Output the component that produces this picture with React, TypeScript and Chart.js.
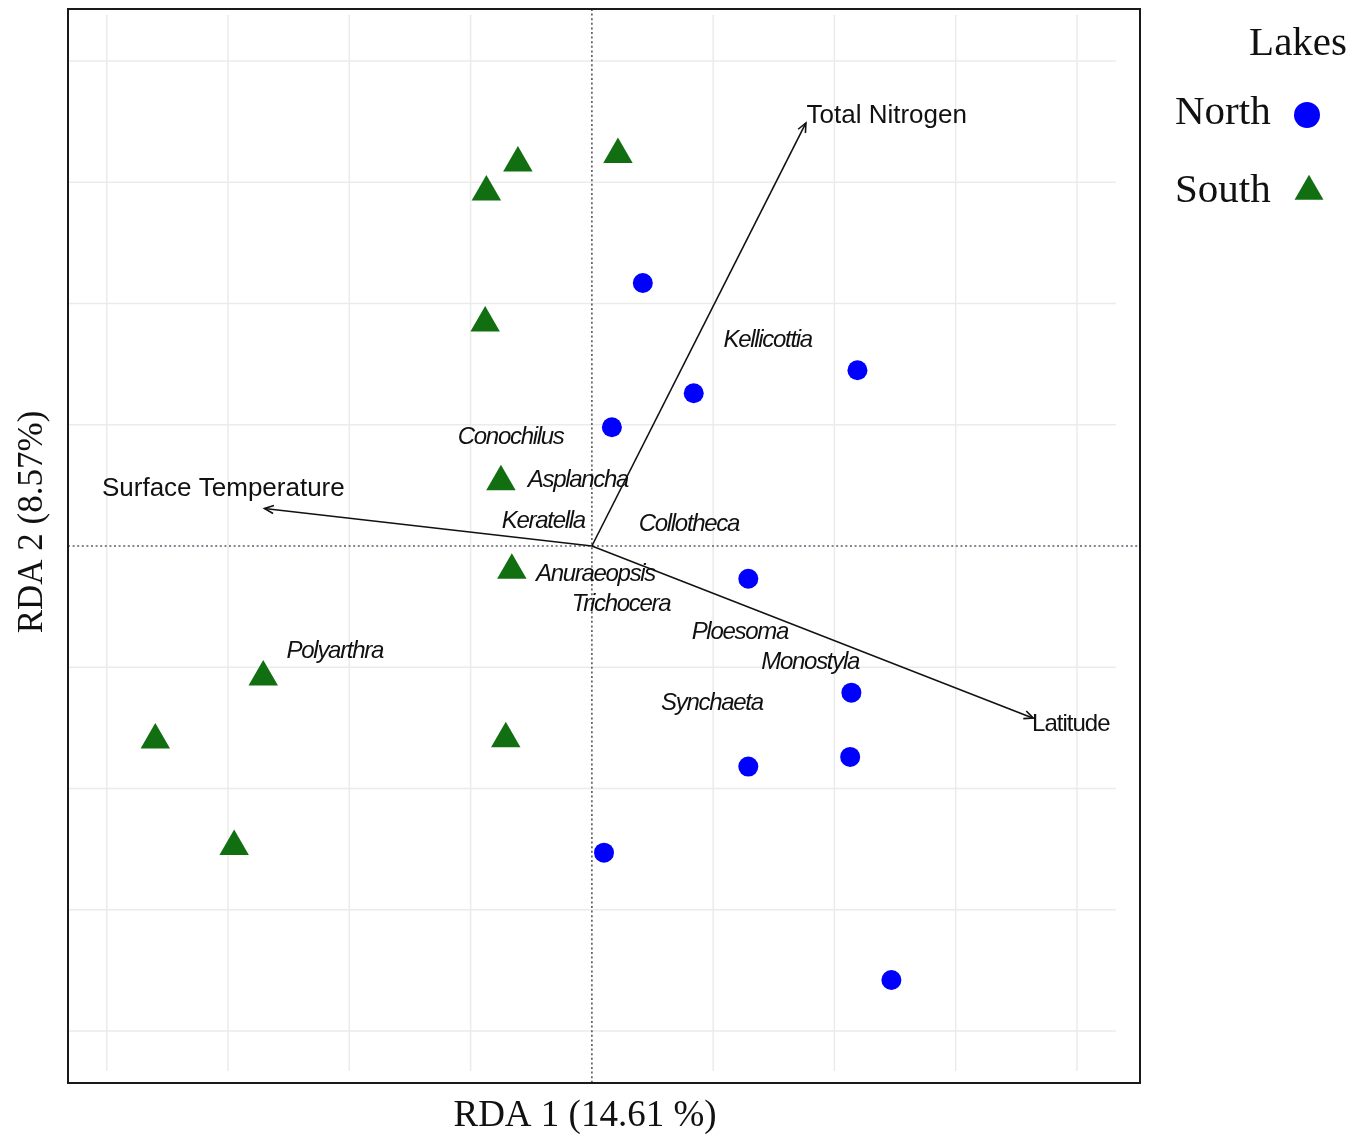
import React, { useEffect, useRef } from "react";
import { Chart, registerables } from "chart.js";

Chart.register(...registerables);

// ---- Data (RDA scores) ----
const northX = [0.42, 2.19, 0.84, 0.165, 1.29, 2.14, 2.13, 1.29, 0.1, 2.47];
const northY = [2.17, 1.45, 1.26, 0.98, -0.27, -1.21, -1.74, -1.82, -2.53, -3.58];

const southX = [0.215, -0.61, -0.87, -0.88, -0.75, -0.66, -2.71, -3.6, -0.71, -2.95];
const southY = [3.23, 3.16, 2.92, 1.84, 0.53, -0.2, -1.08, -1.6, -1.59, -2.48];

const speciesNames = [
  "Kellicottia",
  "Conochilus",
  "Asplancha",
  "Keratella",
  "Collotheca",
  "Anuraeopsis",
  "Trichocera",
  "Ploesoma",
  "Monostyla",
  "Synchaeta",
  "Polyarthra",
];
const speciesX = [1.45, -0.67, -0.115, -0.4, 0.8, 0.03, 0.24, 1.22, 1.8, 0.99, -2.12];
const speciesY = [1.7, 0.9, 0.54, 0.2, 0.18, -0.23, -0.48, -0.71, -0.96, -1.3, -0.87];

const vectorNames = ["Total Nitrogen", "Surface Temperature", "Latitude"];
const vectorX = [1.765, -2.7, 3.64];
const vectorY = [3.49, 0.31, -1.42];
const vectorLabelX = [1.77, -4.04, 3.63];
const vectorLabelY = [3.55, 0.47, -1.47];

const gridTicks = [-4, -3, -2, -1, 1, 2, 3, 4];

const xTitle = "RDA 1 (14.61 %)";
const yTitle = "RDA 2 (8.57%)";
const legendTitle = "Lakes";
const groupNames = ["North", "South"];

const BLUE = "#0000ff";
const GREEN = "#116e11";
const SANS = '"Liberation Sans", Arial, Helvetica, sans-serif';
const SERIF = '"Liberation Serif", "Times New Roman", Times, serif';

const overlay = {
  id: "overlay",
  beforeDraw(chart: any) {
    const ctx = chart.ctx;
    ctx.save();
    ctx.fillStyle = "#ffffff";
    ctx.fillRect(0, 0, chart.width, chart.height);
    ctx.restore();
  },
  beforeDatasetsDraw(chart: any) {
    const { ctx, chartArea: a, scales } = chart;
    const xs = scales.x;
    const ys = scales.y;
    ctx.save();
    // grid
    ctx.strokeStyle = "#ebebeb";
    ctx.lineWidth = 1.5;
    const gx0 = xs.getPixelForValue(-4.32);
    const gx1 = xs.getPixelForValue(4.32);
    const gy0 = ys.getPixelForValue(4.38);
    const gy1 = ys.getPixelForValue(-4.33);
    for (const v of gridTicks) {
      const px = xs.getPixelForValue(v);
      ctx.beginPath();
      ctx.moveTo(px, gy0);
      ctx.lineTo(px, gy1);
      ctx.stroke();
      const py = ys.getPixelForValue(v);
      ctx.beginPath();
      ctx.moveTo(gx0, py);
      ctx.lineTo(gx1, py);
      ctx.stroke();
    }
    // dotted zero lines
    ctx.strokeStyle = "#5f5f6e";
    ctx.lineWidth = 1.7;
    ctx.setLineDash([2, 2.6]);
    const x0 = xs.getPixelForValue(0);
    const y0 = ys.getPixelForValue(0);
    ctx.beginPath();
    ctx.moveTo(x0, a.top);
    ctx.lineTo(x0, a.bottom);
    ctx.stroke();
    ctx.beginPath();
    ctx.moveTo(a.left, y0);
    ctx.lineTo(a.right, y0);
    ctx.stroke();
    ctx.setLineDash([]);
    // arrows
    ctx.strokeStyle = "#111111";
    ctx.lineWidth = 1.6;
    for (let i = 0; i < vectorX.length; i++) {
      const tx = xs.getPixelForValue(vectorX[i]);
      const ty = ys.getPixelForValue(vectorY[i]);
      ctx.beginPath();
      ctx.moveTo(x0, y0);
      ctx.lineTo(tx, ty);
      ctx.stroke();
      const ang = Math.atan2(ty - y0, tx - x0);
      const L = 10;
      const w = 0.42;
      ctx.beginPath();
      ctx.moveTo(tx - L * Math.cos(ang - w), ty - L * Math.sin(ang - w));
      ctx.lineTo(tx, ty);
      ctx.lineTo(tx - L * Math.cos(ang + w), ty - L * Math.sin(ang + w));
      ctx.stroke();
    }
    ctx.restore();
  },
  afterDatasetsDraw(chart: any) {
    const { ctx, chartArea: a, scales } = chart;
    const xs = scales.x;
    const ys = scales.y;
    ctx.save();
    // species labels
    ctx.fillStyle = "#111111";
    ctx.textBaseline = "middle";
    ctx.textAlign = "center";
    ctx.font = `italic 24px ${SANS}`;
    (ctx as any).letterSpacing = "-1.3px";
    for (let i = 0; i < speciesNames.length; i++) {
      ctx.fillText(speciesNames[i], xs.getPixelForValue(speciesX[i]), ys.getPixelForValue(speciesY[i]));
    }
    // vector labels
    ctx.textAlign = "left";
    for (let i = 0; i < vectorNames.length; i++) {
      if (vectorNames[i] === "Latitude") {
        ctx.font = `24px ${SANS}`;
        (ctx as any).letterSpacing = "-1px";
      } else {
        ctx.font = `26px ${SANS}`;
        (ctx as any).letterSpacing = "0px";
      }
      ctx.fillText(vectorNames[i], xs.getPixelForValue(vectorLabelX[i]), ys.getPixelForValue(vectorLabelY[i]));
    }
    (ctx as any).letterSpacing = "0px";
    // border
    ctx.strokeStyle = "#1a1a1a";
    ctx.lineWidth = 2;
    ctx.strokeRect(a.left, a.top, a.right - a.left, a.bottom - a.top);
    // axis titles
    ctx.fillStyle = "#111111";
    ctx.font = `37px ${SERIF}`;
    ctx.textAlign = "center";
    ctx.textBaseline = "middle";
    ctx.fillText(xTitle, a.left + 517, a.bottom + 33);
    ctx.save();
    ctx.font = `35px ${SERIF}`;
    ctx.translate(a.left - 35, a.top + 513);
    ctx.rotate(-Math.PI / 2);
    ctx.fillText(yTitle, 0, 0);
    ctx.restore();
    // legend
    ctx.font = `41px ${SERIF}`;
    ctx.textAlign = "right";
    ctx.fillText(legendTitle, a.right + 207, a.top + 35);
    ctx.textAlign = "left";
    ctx.fillText(groupNames[0], a.right + 35, a.top + 104);
    ctx.fillText(groupNames[1], a.right + 35, a.top + 182);
    // markers
    ctx.fillStyle = BLUE;
    ctx.beginPath();
    ctx.arc(a.right + 167, a.top + 106, 13, 0, Math.PI * 2);
    ctx.fill();
    ctx.fillStyle = GREEN;
    const cx = a.right + 169;
    const cy = a.top + 182.5;
    const r = 16.7;
    ctx.beginPath();
    ctx.moveTo(cx, cy - r);
    ctx.lineTo(cx + r * 0.866, cy + r * 0.5);
    ctx.lineTo(cx - r * 0.866, cy + r * 0.5);
    ctx.closePath();
    ctx.fill();
    ctx.restore();
  },
};

export default function App() {
  const ref = useRef<HTMLCanvasElement | null>(null);
  useEffect(() => {
    if (!ref.current) return;
    const chart = new Chart(ref.current, {
      type: "scatter",
      data: {
        datasets: [
          {
            label: groupNames[0],
            data: northX.map((x, i) => ({ x, y: northY[i] })),
            pointStyle: "circle",
            pointRadius: 10,
            pointHoverRadius: 10,
            backgroundColor: BLUE,
            borderWidth: 0,
          },
          {
            label: groupNames[1],
            data: southX.map((x, i) => ({ x, y: southY[i] })),
            pointStyle: "triangle",
            pointRadius: 17,
            pointHoverRadius: 17,
            backgroundColor: GREEN,
            borderWidth: 0,
          },
        ],
      },
      options: {
        animation: false,
        responsive: false,
        devicePixelRatio: 1,
        layout: { autoPadding: false, padding: { left: 68, top: 9, right: 227, bottom: 56 } },
        scales: {
          x: { type: "linear", min: -4.32, max: 4.52, display: false },
          y: { type: "linear", min: -4.43, max: 4.43, display: false },
        },
        plugins: {
          legend: { display: false },
          tooltip: { enabled: false },
        },
        events: [],
      },
      plugins: [overlay],
    });
    return () => chart.destroy();
  }, []);
  return (
    <div style={{ position: "absolute", left: 0, top: 0, width: 1367, height: 1139 }}>
      <canvas ref={ref} width={1367} height={1139} style={{ width: 1367, height: 1139 }} />
    </div>
  );
}
